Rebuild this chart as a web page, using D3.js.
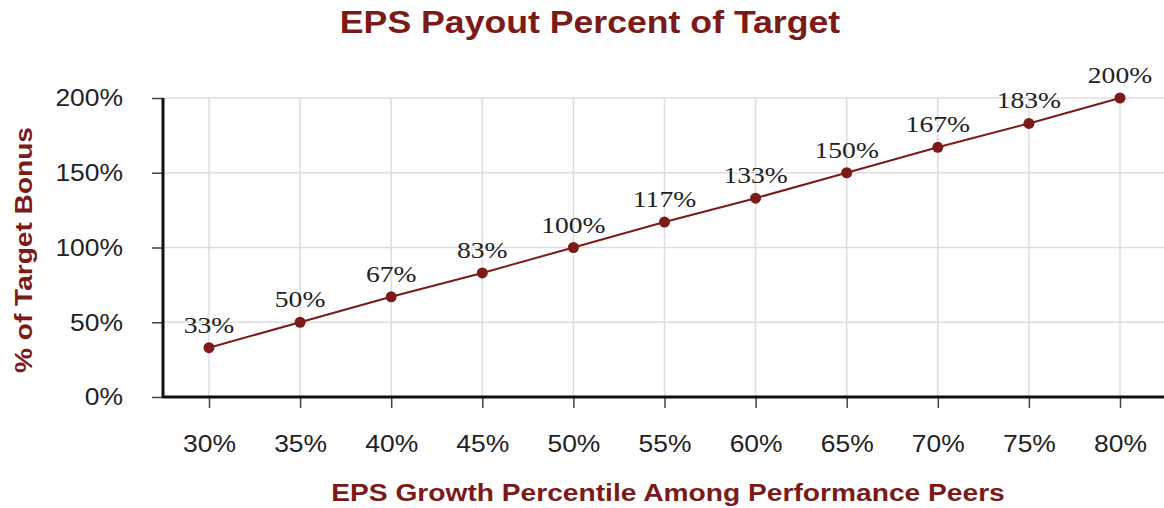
<!DOCTYPE html>
<html>
<head>
<meta charset="utf-8">
<script src="https://cdn.jsdelivr.net/npm/d3@7"></script>
<style>
  body { margin: 0; background: #fff; }
  svg { display: block; }
</style>
</head>
<body>
<svg id="chart" width="1164" height="508"></svg>
<script>
// data
const percentiles = [30, 35, 40, 45, 50, 55, 60, 65, 70, 75, 80]
const payout = [33, 50, 67, 83, 100, 117, 133, 150, 167, 183, 200]
const yTicks = [0, 50, 100, 150, 200]

const red = "#7b1a17"
const sans = "Liberation Sans, Arial, sans-serif"
const serif = "Liberation Serif, Times New Roman, serif"
// the original picture is a bit wider than tall, text looks stretched
const stretch = 1.15

const svg = d3.select("#chart")

const margin = { left: 163, right: 0, top: 98, bottom: 111 }
const width = 1164, height = 508

const x = d3.scaleLinear()
	.domain([30, 80])
	.range([209, 1120])

const y = d3.scaleLinear()
	.domain([0, 200])
	.range([height - margin.bottom, margin.top])

// grid
svg.append("g")
	.selectAll("line")
	.data(yTicks.slice(1))
	.join("line")
	.attr("x1", margin.left).attr("x2", width)
	.attr("y1", d => y(d)).attr("y2", d => y(d))
	.style("stroke", "#dedede").style("stroke-width", 1.5)

svg.append("g")
	.selectAll("line")
	.data(percentiles)
	.join("line")
	.attr("x1", d => x(d)).attr("x2", d => x(d))
	.attr("y1", y(200)).attr("y2", y(0))
	.style("stroke", "#dedede").style("stroke-width", 1.5)

// axes
const yAxis = d3.axisLeft(y)
	.tickValues(yTicks)
	.tickFormat(d => d + "%")
	.tickSize(11)

const xAxis = d3.axisBottom(x)
	.tickValues(percentiles)
	.tickFormat(d => d + "%")
	.tickSize(11)

const gy = svg.append("g")
	.attr("transform", `translate(${margin.left},0)`)
	.call(yAxis)
gy.select(".domain").remove()
gy.selectAll(".tick text")
	.attr("x", 0)
	.attr("dy", "0.34em")
	.attr("transform", `translate(-40,0) scale(${stretch},1)`)

const gx = svg.append("g")
	.attr("transform", `translate(0,${y(0)})`)
	.call(xAxis)
gx.select(".domain").remove()
gx.selectAll(".tick text")
	.attr("y", 0)
	.attr("dy", 0)
	.attr("transform", `translate(0,55) scale(${stretch},1)`)

svg.selectAll(".tick line").style("stroke", "#444").style("stroke-width", 1.5)
svg.selectAll(".tick text")
	.style("font-family", sans)
	.style("font-size", "23px")
	.style("fill", "#222")

// axis lines
svg.append("line")
	.attr("x1", margin.left).attr("x2", margin.left)
	.attr("y1", y(200)).attr("y2", y(0) + 1)
	.style("stroke", "#111").style("stroke-width", 3)
svg.append("line")
	.attr("x1", margin.left).attr("x2", width)
	.attr("y1", y(0)).attr("y2", y(0))
	.style("stroke", "#111").style("stroke-width", 3)

// series
const line = d3.line()
	.x((d, i) => x(percentiles[i]))
	.y(d => y(d))

svg.append("path")
	.datum(payout)
	.attr("d", line)
	.style("fill", "none")
	.style("stroke", red)
	.style("stroke-width", 2)

svg.append("g")
	.selectAll("circle")
	.data(payout)
	.join("circle")
	.attr("cx", (d, i) => x(percentiles[i]))
	.attr("cy", d => y(d))
	.attr("r", 5.5)
	.style("fill", red)

svg.append("g")
	.selectAll("text")
	.data(payout)
	.join("text")
	.attr("transform", (d, i) => `translate(${x(percentiles[i])},${y(d) - 15}) scale(${stretch},1)`)
	.attr("text-anchor", "middle")
	.style("font-family", serif)
	.style("font-size", "24px")
	.style("fill", "#222")
	.text(d => d + "%")

// titles
svg.append("text")
	.attr("transform", `translate(590,33) scale(${stretch},1)`)
	.attr("text-anchor", "middle")
	.style("font-family", sans)
	.style("font-weight", "bold")
	.style("font-size", "31px")
	.style("fill", red)
	.text("EPS Payout Percent of Target")

svg.append("text")
	.attr("transform", `translate(668,501) scale(${stretch},1)`)
	.attr("text-anchor", "middle")
	.style("font-family", sans)
	.style("font-weight", "bold")
	.style("font-size", "24.5px")
	.style("fill", red)
	.text("EPS Growth Percentile Among Performance Peers")

svg.append("text")
	.attr("transform", "translate(32,250) rotate(-90)")
	.attr("text-anchor", "middle")
	.attr("textLength", 246)
	.attr("lengthAdjust", "spacingAndGlyphs")
	.style("font-family", sans)
	.style("font-weight", "bold")
	.style("font-size", "24px")
	.style("fill", red)
	.text("% of Target Bonus")
</script>
</body>
</html>
